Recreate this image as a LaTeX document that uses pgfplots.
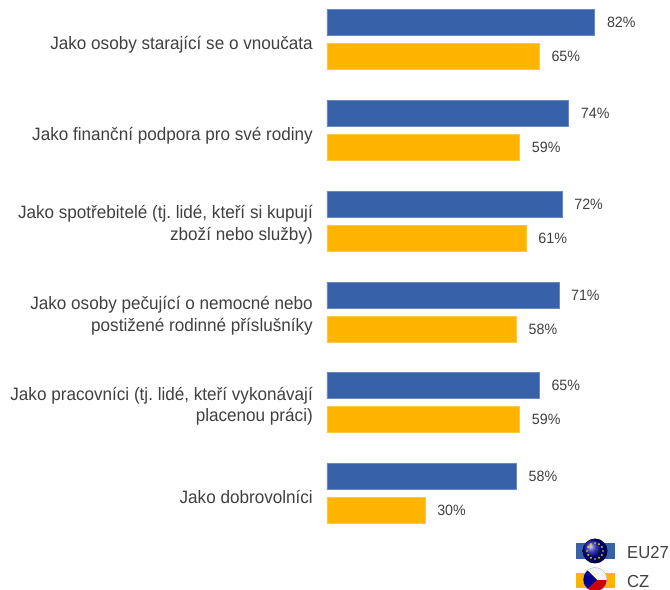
\documentclass[border=0pt]{standalone}
\usepackage{fontspec}
\setmainfont{Liberation Sans}[FakeStretch=0.954]
\usepackage{pgfplots}
\pgfplotsset{compat=1.18}
\definecolor{eublue}{HTML}{3762AA}
\definecolor{czorange}{HTML}{FFB400}
\definecolor{txt}{HTML}{404040}
\frenchspacing
\begin{document}
\begin{tikzpicture}[x=1bp,y=1bp]
\path[use as bounding box] (-327,0) rectangle (343,590);
\begin{axis}[
  at={(0,0)}, anchor=south west,
  scale only axis, width=343bp, height=590bp,
  xmin=0, xmax=105.05,
  ymin=0.562, ymax=7.063, y dir=reverse,
  axis x line=none,
  axis y line=left, y axis line style={draw=none},
  major tick length=0pt,
  /pgf/number format/assume math mode=true,
  ytick={1,2,3,4,5,6},
  yticklabels={\raisebox{-6.5bp}[0pt][0pt]{Jako osoby starající se o vnoučata},\raisebox{-6.5bp}[0pt][0pt]{Jako finanční podpora pro své rodiny},{Jako spotřebitelé (tj. lidé, kteří si kupují\\zboží nebo služby)},Jako osoby pečující o nemocné nebo\\postižené rodinné příslušníky,{Jako pracovníci (tj. lidé, kteří vykonávají\\placenou práci)},\raisebox{-6.5bp}[0pt][0pt]{Jako dobrovolníci}},
  yticklabel style={align=right, font=\fontsize{18}{22}\selectfont, text=txt, inner sep=0pt, xshift=-14bp, yshift=-3.5bp},
  xbar, bar width=26bp, clip=false,
  nodes near coords={\pgfmathprintnumber{\pgfplotspointmeta}\%},
  nodes near coords style={font=\fontsize{15}{18}\selectfont, text=txt, anchor=west, inner sep=0pt, xshift=12bp},
]
\addplot[bar shift=17bp, fill=eublue, draw=eublue!75!white, line width=0.6pt] coordinates {(82,1) (74,2) (72,3) (71,4) (65,5) (58,6)};
\addplot[bar shift=-17bp, fill=czorange, draw=czorange!75!white, line width=0.6pt] coordinates {(65,1) (59,2) (61,3) (58,4) (59,5) (30,6)};
\end{axis}
% legend (pixel -> picture: x-327, 590-y)
\begin{scope}[shift={(-327,590)}, y=-1bp]
  \fill[eublue] (576,543) rectangle (615,559);
  \shade[ball color=blue!60!black] (595,551) circle (12.5);
  \foreach \a in {0,30,...,330} \fill[yellow!85!orange] ({595+8*cos(\a)},{551+8*sin(\a)}) circle (0.95);
  \fill[czorange] (576,573) rectangle (615,588);
  \begin{scope}
    \clip (595,579.5) circle (12);
    \fill[white!90!gray] (582,566) rectangle (608,580);
    \fill[red!80!black] (582,580) rectangle (608,593);
    \fill[blue!55!black] (582,565) -- (597,580) -- (582,594) -- cycle;
  \end{scope}
  \draw[gray!60, line width=0.4pt] (595,579.5) circle (12);
  \node[anchor=west, inner sep=0pt, text=txt, font=\fontsize{17.5}{20}\selectfont] at (627,552) {EU27};
  \node[anchor=west, inner sep=0pt, text=txt, font=\fontsize{17.5}{20}\selectfont] at (627,581) {CZ};
\end{scope}
\end{tikzpicture}
\end{document}
